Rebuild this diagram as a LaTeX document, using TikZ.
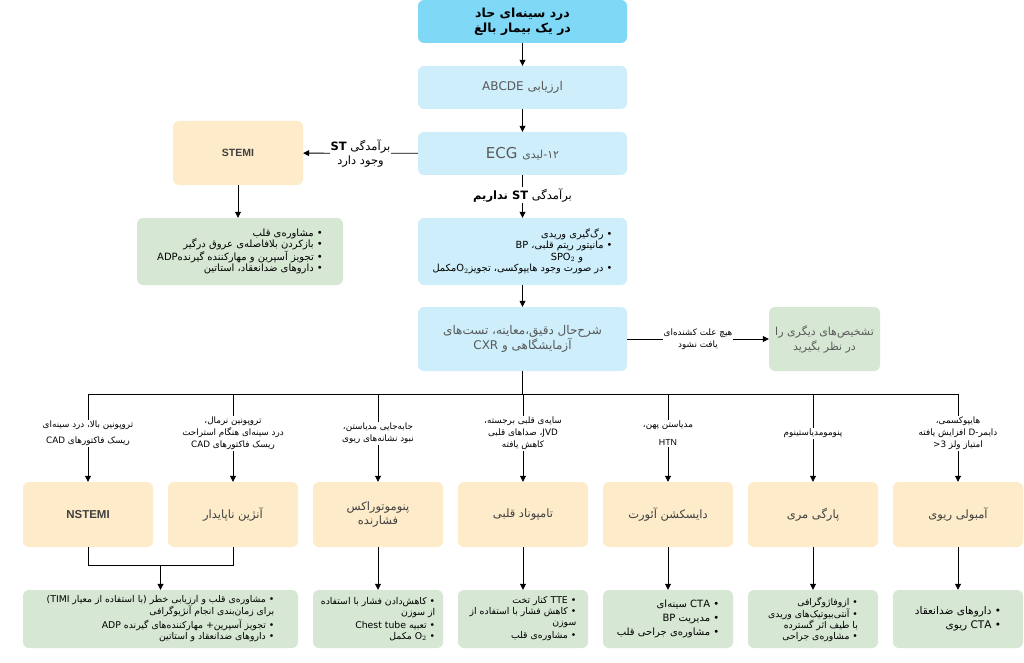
\documentclass[tikz,border=0pt]{standalone}
\usepackage{fontspec}
\usetikzlibrary{
  arrows.meta,
  calc,
  positioning
}
\TeXXeTstate=1
\setmainfont{Liberation Sans}
\newfontfamily\fafont[Script=Arabic]{DejaVu Sans}
\newcommand{\fa}[1]{{\fafont\beginR #1\endR}}
\newcommand{\lat}[1]{\beginL #1\endL}
\definecolor{topblue}{HTML}{7ED8F6}
\definecolor{paleblue}{HTML}{CDEEFA}
\definecolor{paleyellow}{HTML}{FDEBC9}
\definecolor{palegreen}{HTML}{D6E8D4}
\tikzset{
  % For all boxes.
  box/.style={
    rounded corners=6pt,
    inner sep=3pt,
    align=center},
%
  % For the main path.
  bluebox/.style={
    box,
    fill=paleblue,
    text=black!65,
    minimum width=209pt,
    minimum height=43pt,
    font=\fontsize{12}{15}\selectfont},
%
  % For the diagnoses.
  diagbox/.style={
    box,
    fill=paleyellow,
    text=black!75,
    minimum width=130pt,
    minimum height=65pt,
    font=\fontsize{11.5}{14}\selectfont},
%
  % For the treatments.
  carebox/.style={
    box,
    fill=palegreen,
    align=right,
    minimum height=58pt,
    font=\fontsize{9.3}{11}\selectfont},
%
  % For texts on connectors.
  lbl/.style={
    fill=white,
    inner sep=1pt,
    align=center,
    font=\fontsize{8.8}{12}\selectfont},
%
  arr/.style={
    -{Triangle[length=6pt,width=6pt]},
    line width=0.8pt},
}
\begin{document}
\begin{tikzpicture}[x=1pt,y=-1pt]
  \useasboundingbox (0,0) rectangle (1024,663);

  \node[bluebox, fill=topblue, text=black, minimum height=43pt,
        font=\fontsize{12.5}{15}\selectfont\bfseries] (pain) at (522.5,21.5)
    {\fa{درد سینه‌ای حاد}\\\fa{در یک بیمار بالغ}};
  \node[bluebox] (abcde) at (522.5,87.5) {\fa{ارزیابی \lat{ABCDE}}};
  \node[bluebox, font=\fontsize{15}{17}\selectfont] (ecg) at (522.5,153.5)
    {\fa{{\fontsize{11}{13}\selectfont ۱۲-لیدی} \lat{ECG}}};
  \node[diagbox, minimum height=64pt, font=\fontsize{10.5}{12}\selectfont\bfseries]
    (stemi) at (238,153) {STEMI};
  \node[carebox, minimum width=206pt, minimum height=67pt,
        font=\fontsize{10}{11.5}\selectfont] (stemicare) at (240,251.5)
    {\fa{• مشاوره‌ی قلب}\\
     \fa{• بازکردن بلافاصله‌ی عروق درگیر}\\
     \fa{• تجویز آسپرین و مهارکننده گیرنده\lat{ADP}}\\
     \fa{• داروهای ضدانعقاد، استاتین}};
  \node[bluebox, text=black, align=right, minimum height=67pt,
        font=\fontsize{9.8}{11.5}\selectfont] (iv) at (522.5,251.5)
    {\fa{• رگ‌گیری وریدی}\\
     \fa{• مانیتور ریتم قلبی، \lat{BP}}\\
     \fa{\quad\quad\quad و \lat{SPO$_2$}}\hspace*{50pt}\\
     \fa{• در صورت وجود هایپوکسی، تجویز\lat{O$_2$}مکمل}};
  \node[bluebox, minimum height=64pt] (hist) at (522.5,339)
    {\fa{شرح‌حال دقیق،معاینه، تست‌های}\\\fa{آزمایشگاهی و \lat{CXR}}};
  \node[box, fill=palegreen, text=black!65, minimum width=111pt, minimum height=64pt,
        font=\fontsize{11}{15}\selectfont] (other) at (824.5,339)
    {\fa{تشخیص‌های دیگری را}\\\fa{در نظر بگیرید}};

  \draw[arr] (pain) -- (abcde);
  \draw[arr] (abcde) -- (ecg);
  \draw[arr] (ecg) -- (stemi)
    node[lbl, midway, font=\fontsize{11.5}{14}\selectfont]
      {\fa{برآمدگی \lat{\bfseries ST}}\\\fa{وجود دارد}};
  \draw[arr] (ecg) -- (iv)
    node[lbl, pos=0.47, font=\fontsize{11.5}{14}\selectfont]
      {\fa{برآمدگی \lat{\bfseries ST} نداریم}};
  \draw[arr] (stemi.south) -- (stemi.south |- stemicare.north);
  \draw[arr] (iv) -- (hist);
  \draw[arr] (hist) -- (other)
    node[lbl, midway] {\fa{هیچ علت کشنده‌ای}\\\fa{یافت نشود}};

  % diagnoses
  \foreach \name/\x/\txt in {
      nstemi/88/{\bfseries NSTEMI},
      ua/233/{\fa{آنژین ناپایدار}},
      ptx/378/{\fa{پنوموتوراکس}\\\fa{فشارنده}},
      tamp/523/{\fa{تامپوناد قلبی}},
      diss/668/{\fa{دایسکشن آئورت}},
      eso/813/{\fa{پارگی مری}},
      pe/958/{\fa{آمبولی ریوی}}}
    \node[diagbox] (\name) at (\x,514.5) {\txt};

  \coordinate (busL) at (88,394);
  \coordinate (busR) at (958,394);
  \draw[line width=0.8pt] (busL) -- (busR);
  \draw[line width=0.8pt] (hist) -- (hist |- busL);

  \foreach \name/\txt in {
      nstemi/{\fa{تروپونین بالا، درد سینه‌ای}\\[4pt]\fa{ریسک فاکتورهای \lat{CAD}}},
      ua/{\fa{تروپونین نرمال،}\\\fa{درد سینه‌ای هنگام استراحت}\\\fa{ریسک فاکتورهای \lat{CAD}}},
      ptx/{\fa{جابه‌جایی مدیاستن،}\\\fa{نبود نشانه‌های ریوی}},
      tamp/{\fa{سایه‌ی قلبی برجسته،}\\\fa{\lat{JVD}، صداهای قلبی}\\\fa{کاهش یافته}},
      diss/{\fa{مدیاستن پهن،}\\[6pt]\lat{HTN}},
      eso/{\fa{پنومومدیاستینوم}},
      pe/{\fa{هایپوکسمی،}\\\fa{دایمر-\lat{D} افزایش یافته}\\\fa{امتیاز ولز \lat{3<}}}}
    \draw[arr] (\name.north |- busL) -- (\name.north)
      node[lbl, pos=0.45] {\txt};

  % treatments
  \node[carebox, minimum width=275pt] (acscare) at (160.5,619)
    {\fa{• مشاوره‌ی قلب و ارزیابی خطر (با استفاده از معیار \lat{TIMI})}\\
     \fa{برای زمان‌بندی انجام آنژیوگرافی}\\[2pt]
     \fa{• تجویز آسپرین+ مهارکننده‌های گیرنده \lat{ADP}}\\
     \fa{• داروهای ضدانعقاد و استاتین}};
  \node[carebox, minimum width=130pt] (ptxcare) at (378,619)
    {\fa{• کاهش‌دادن فشار با استفاده}\\\fa{از سوزن}\\[2pt]
     \fa{• تعبیه \lat{Chest tube}}\\\fa{• \lat{O$_2$} مکمل}};
  \node[carebox, minimum width=130pt] (tampcare) at (523,619)
    {\fa{• \lat{TTE} کنار تخت}\\\fa{• کاهش فشار با استفاده از}\\\fa{سوزن}\\[2pt]
     \fa{• مشاوره‌ی قلب}};
  \node[carebox, minimum width=130pt, font=\fontsize{10}{14}\selectfont] (disscare) at (668,619)
    {\fa{• \lat{CTA} سینه‌ای}\\\fa{• مدیریت \lat{BP}}\\\fa{• مشاوره‌ی جراحی قلب}};
  \node[carebox, minimum width=130pt] (esocare) at (813,619)
    {\fa{• ازوفاژوگرافی}\\\fa{• آنتی‌بیوتیک‌های وریدی}\\\fa{با طیف اثر گسترده}\\
     \fa{• مشاوره‌ی جراحی}};
  \node[carebox, minimum width=130pt, font=\fontsize{10.5}{14}\selectfont] (pecare) at (958,619)
    {\fa{• داروهای ضدانعقاد}\\\fa{• \lat{CTA} ریوی}};

  \coordinate (join) at ($(nstemi.south)!0.5!(ua.south) + (0,18)$);
  \draw[line width=0.8pt] (nstemi.south) -- ++(0,18) -| (ua.south);
  \draw[arr] (join) -- (join |- acscare.north);
  \foreach \name/\care in {ptx/ptxcare, tamp/tampcare, diss/disscare,
                           eso/esocare, pe/pecare}
    \draw[arr] (\name) -- (\care);
\end{tikzpicture}
\end{document}
